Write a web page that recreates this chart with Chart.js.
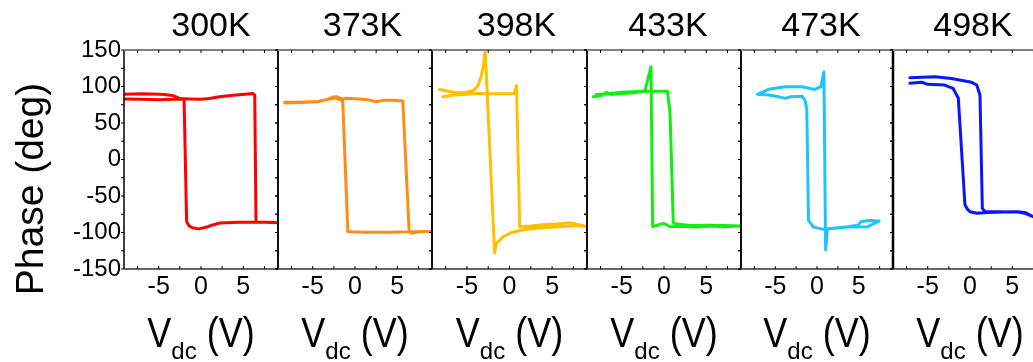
<!DOCTYPE html>
<html>
<head>
<meta charset="utf-8">
<title>Phase loops vs temperature</title>
<script src="https://cdn.jsdelivr.net/npm/chart.js@4.4.0/dist/chart.umd.min.js"></script>
<style>
  html, body { margin: 0; padding: 0; background: #fff; }
  #wrap { position: relative; width: 1033px; height: 362px; overflow: hidden; }
  #wrap canvas { position: absolute; left: 0; top: 0; }
</style>
</head>
<body>
<div id="wrap"></div>
<script>
// panel titles and tick labels
const temps = ['300K', '373K', '398K', '433K', '473K', '498K'];
const xTicks = [-5, 0, 5];
const yTicks = [-150, -100, -50, 0, 50, 100, 150];

// loops (Vdc in V, phase in deg), in sweep order
const vdc300 = [-9.1, -7, -5, -4.3, -3.3, -2.5, -1.5, 0, 1, 2.2, 3.8, 5.2, 6.15, 6.35, 6.5, 7.5, 9.1, 8, 6.5, 4.5, 2.2, 1.3, 0.7, -0.3, -1.0, -1.4, -1.7, -2.0, -3, -5, -7, -9.1];
const phase300 = [89.5, 90, 89.5, 89, 87.5, 83.5, 83, 82.5, 83.5, 86, 88, 89.5, 90.5, 88, -86, -86, -86.5, -86, -86, -86, -87, -90, -92.5, -95, -93.5, -91, -85, 83, 82.5, 82, 82.5, 83];

const vdc373 = [-8.3, -6.5, -4.4, -3.4, -2.6, -2.1, -1.6, -1.0, 0.5, 1.5, 2.5, 3.3, 4.5, 5.65, 6.4, 6.7, 7.5, 9.1, 8, 6.4, 4, 1.5, -0.3, -0.85, -1.45, -2.2, -3.0, -4.4, -6.5, -8.3];
const phase373 = [77.5, 78, 79, 82, 85.5, 86, 83, 84, 83, 82, 79, 81, 81, 80, -98, -101, -99, -98.5, -99, -99, -99.5, -99.5, -99, -98.5, 80, 84.5, 83, 79.5, 78.5, 78.5];

const vdc398 = [-7.85, -6.5, -5.3, -4, -2.5, -1, 0.55, 0.82, 1.2, 2.5, 3.8, 5.5, 7.1, 8, 9.1, 8, 6.9, 4.2, 1.8, 0.23, -0.76, -1.54, -1.75, -2.85, -3.05, -3.3, -3.7, -4.3, -5.2, -6.1, -8.25];
const phase398 = [86, 88.5, 89, 90.5, 90, 90, 90, 101, -92, -91, -89.5, -88.5, -86.5, -89, -92, -90.5, -91.5, -93, -96, -100, -106, -115, -128, 149, 130, 115, 101, 94, 92, 91, 96];

const vdc433 = [-8.35, -7.3, -6.8, -6.3, -5, -3.5, -2.25, -1.54, -1.34, -0.8, -0.08, 0.4, 0.7, 2, 4, 5.5, 7, 9.1, 7, 5, 3, 1.1, 0.71, 0.4, -1, -3, -5, -6.5, -8];
const phase433 = [86, 88, 92, 89, 90.5, 91.5, 94, 127, -92, -90, -87.5, -90, -92, -91.5, -92.5, -91, -92, -91, -90.5, -90, -90.5, -87.5, 65, 93.5, 93.5, 93, 92, 90, 89];

const vdc473 = [-7.13, -5.78, -4.6, -3.8, -3.2, -1.8, -1.42, -1.22, -1.02, -0.43, 0.75, 2.5, 3.7, 4.9, 5.3, 6.2, 7.45, 6.1, 3.7, 1.7, 1.25, 1.03, 0.83, 0.47, -0.24, -1.8, -3.8, -5.78, -7.13];
const phase473 = [89.3, 88.4, 86, 83.7, 86, 86.8, 81, 68, -83, -92.6, -95.7, -93.5, -92, -90, -85, -83.5, -84.2, -92, -92.5, -94.5, -95, -124, 120, 99.7, 96, 99.7, 99.7, 96.1, 89.3];

const vdc498 = [-7.1, -5.7, -5.0, -3, -2.0, -1.38, -0.6, -0.3, 0, 0.8, 2, 4, 5.7, 6.6, 7.5, 6.6, 5.7, 3, 1.77, 1.46, 1.18, 0.8, 0.2, -2.2, -4.1, -7.1];
const phase498 = [104.3, 105.8, 103, 102, 97.5, 84, -62, -68, -71.5, -73.7, -72.5, -72, -71.5, -73, -78.5, -74, -72, -71.5, -71.5, -67, 88, 102, 105.7, 111, 113.5, 112];

const vdcList = [vdc300, vdc373, vdc398, vdc433, vdc473, vdc498];
const phaseList = [phase300, phase373, phase398, phase433, phase473, phase498];
const lineColors = ['#ff0000', '#ff8c14', '#ffc000', '#11ee11', '#1ec4ff', '#0a14ff'];

// layout
const W = 1050, H = 362;
const borders = [124, 278, 432, 587, 741, 893, 1047];
const titleShift = [10, 7.5, 7, 4, 4, 3];
const FONT = "'Liberation Sans', Arial, sans-serif";

const panelFrame = {
  id: 'panelFrame',
  afterDraw(chart, args, opts) {
    const ctx = chart.ctx;
    const a = chart.chartArea;
    const xs = chart.scales.x, ys = chart.scales.y;
    ctx.save();

    // box
    ctx.strokeStyle = '#000';
    ctx.lineWidth = opts.leftWidth || 1.5;
    ctx.beginPath();
    ctx.moveTo(a.left, a.top); ctx.lineTo(a.left, a.bottom);
    ctx.stroke();
    ctx.lineWidth = 1.5;
    ctx.beginPath();
    ctx.moveTo(a.right, a.top); ctx.lineTo(a.right, a.bottom);
    ctx.stroke();
    ctx.strokeStyle = '#333';
    ctx.beginPath();
    ctx.moveTo(a.left, a.bottom); ctx.lineTo(a.right, a.bottom);
    ctx.stroke();
    ctx.strokeStyle = '#808080';
    ctx.lineWidth = 2;
    ctx.beginPath();
    ctx.moveTo(a.left, a.top); ctx.lineTo(a.right, a.top);
    ctx.stroke();

    // small ticks
    ctx.strokeStyle = '#000';
    ctx.lineWidth = 1;
    ctx.beginPath();
    for (let v = ys.min; v <= ys.max; v += 25) {
      const py = ys.getPixelForValue(v);
      ctx.moveTo(a.left - 3, py); ctx.lineTo(a.left, py);
      ctx.moveTo(a.right - 3, py); ctx.lineTo(a.right, py);
    }
    for (let v = -7.5; v <= 7.5; v += 2.5) {
      const px = xs.getPixelForValue(v);
      ctx.moveTo(px, a.bottom); ctx.lineTo(px, a.bottom - 3);
      ctx.moveTo(px, a.top); ctx.lineTo(px, a.top + 3);
    }
    ctx.stroke();

    const cx = (a.left + a.right) / 2;
    ctx.fillStyle = '#000';

    // temperature title
    ctx.font = '34px ' + FONT;
    ctx.textAlign = 'center';
    ctx.textBaseline = 'alphabetic';
    ctx.fillText(opts.title, cx + opts.shift, 36);

    // x title: V_dc (V)
    ctx.textAlign = 'left';
    const big = '36px ' + FONT, small = '24px ' + FONT;
    ctx.font = big;
    const wV = ctx.measureText('V').width;
    const wRest = ctx.measureText(' (V)').width;
    ctx.font = small;
    const wSub = ctx.measureText('dc').width;
    const total = wV + wSub + wRest;
    let x0 = cx - total / 2;
    ctx.save();
    ctx.translate(0, 347);
    ctx.scale(1, 1.2);
    ctx.font = big;
    ctx.fillText('V', x0, 0);
    ctx.fillText(' (V)', x0 + wV + wSub, 0);
    ctx.restore();
    ctx.font = small;
    ctx.fillText('dc', x0 + wV, 359);

    // y title on first panel
    if (opts.yTitle) {
      ctx.save();
      ctx.translate(43, 189);
      ctx.rotate(-Math.PI / 2);
      ctx.font = '39px ' + FONT;
      ctx.textAlign = 'center';
      ctx.fillText(opts.yTitle, 0, 0);
      ctx.restore();
    }
    ctx.restore();
  }
};

const wrap = document.getElementById('wrap');

temps.forEach((temp, i) => {
  const canvas = document.createElement('canvas');
  canvas.width = W;
  canvas.height = H;
  canvas.style.width = W + 'px';
  canvas.style.height = H + 'px';
  wrap.appendChild(canvas);

  const first = i === 0;
  const points = vdcList[i].map((v, k) => ({ x: v, y: phaseList[i][k] }));

  new Chart(canvas, {
    type: 'scatter',
    data: {
      datasets: [{
        data: points,
        showLine: true,
        borderColor: lineColors[i],
        backgroundColor: lineColors[i],
        borderWidth: 3,
        pointRadius: 0,
        tension: 0,
        borderJoinStyle: 'round',
        borderCapStyle: 'round'
      }]
    },
    options: {
      responsive: false,
      animation: false,
      devicePixelRatio: 1,
      events: [],
      layout: {
        padding: { left: first ? 0 : borders[i], right: W - borders[i + 1], top: 50, bottom: 0 }
      },
      plugins: {
        legend: { display: false },
        tooltip: { enabled: false },
        panelFrame: {
          title: temp,
          shift: titleShift[i],
          yTitle: first ? 'Phase (deg)' : null,
          leftWidth: i === 5 ? 2.5 : 1.5
        }
      },
      scales: {
        x: {
          type: 'linear',
          min: -9.1,
          max: 9.1,
          afterBuildTicks: s => { s.ticks = xTicks.map(v => ({ value: v })); },
          afterFit: s => { s.height = 93; },
          grid: { display: false, drawTicks: false },
          border: { display: false },
          ticks: { color: '#000', padding: 3, maxRotation: 0, font: { family: FONT, size: 25 } }
        },
        y: {
          type: 'linear',
          display: first,
          min: -150,
          max: 150,
          afterBuildTicks: s => { s.ticks = yTicks.map(v => ({ value: v })); },
          afterFit: s => { s.width = first ? borders[0] : 0; },
          grid: { display: false, drawTicks: false },
          border: { display: false },
          ticks: { color: '#000', padding: 3, font: { family: FONT, size: 24 } }
        }
      }
    },
    plugins: [panelFrame]
  });
});
</script>
</body>
</html>
